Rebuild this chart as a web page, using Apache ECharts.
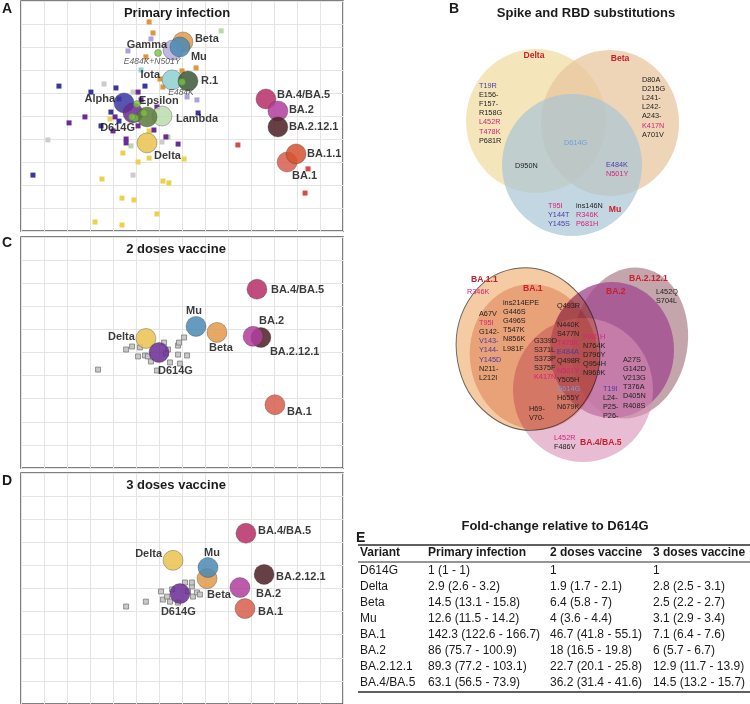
<!DOCTYPE html>
<html>
<head>
<meta charset="utf-8">
<script src="https://cdn.jsdelivr.net/npm/echarts@6/dist/echarts.min.js"></script>
<style>
  html, body { margin: 0; padding: 0; background: #fff; }
  #chart { width: 750px; height: 704px; }
</style>
</head>
<body>
<div id="chart"></div>
<script>
var FONT = '"Liberation Sans", Arial, sans-serif';

// ---- antigenic maps, coordinates in antigenic units (1 unit = 1 grid square) ----
// A: primary infection
var primaryNames = ['Beta', 'Gamma', 'Mu', 'Iota', 'R.1', 'Alpha', 'D614G', 'Lambda', 'Epsilon', 'Delta',
  'BA.4/BA.5', 'BA.2', 'BA.2.12.1', 'BA.1', 'BA.1.1'];
var primaryX = [7.04, 6.61, 6.91, 6.57, 7.26, 4.48, 4.87, 6.13, 5.48, 5.48, 10.65, 11.17, 11.17, 11.57, 11.96];
var primaryY = [8.22, 7.87, 8.00, 6.57, 6.52, 5.57, 5.13, 5.00, 4.96, 3.83, 5.74, 5.22, 4.52, 3.00, 3.35];

// point mutant pseudoviruses (green dots)
var mutantNames = ['E484K+N501Y', 'E484K', '', '', '', ''];
var mutantX = [5.96, 7.00, 5.04, 5.35, 4.96, 4.83];
var mutantY = [7.74, 6.48, 5.52, 5.13, 4.91, 4.96];

// convalescent sera (squares), grouped by infecting variant
var seraBeta = [[5.57, 9.09], [5.74, 8.61], [5.43, 7.57], [6.04, 6.61], [6.17, 6.26], [7.00, 6.96], [7.61, 7.09]];
var seraGamma = [[5.65, 8.35], [4.65, 7.83], [7.22, 5.83], [7.65, 5.70]];
var seraLambda = [[8.70, 8.70], [4.78, 3.70], [6.39, 4.09]];
var seraIota = [[5.22, 7.00]];
var seraAlpha = [[1.65, 6.30], [3.04, 6.04], [4.13, 6.22], [5.39, 6.30], [4.26, 5.74], [3.91, 5.17], [4.26, 4.78],
  [3.48, 4.57], [7.70, 5.13], [0.52, 2.43]];
var seraD614G = [[5.09, 6.04], [5.22, 5.70], [2.78, 4.96], [2.09, 4.70], [4.09, 4.96], [4.00, 4.35], [5.09, 4.57],
  [5.78, 4.39], [5.91, 5.39], [4.57, 4.00], [4.57, 3.83], [6.30, 4.09], [6.83, 3.78]];
var seraOther = [[3.61, 6.39], [4.87, 6.04], [1.17, 3.96], [6.13, 3.87], [4.87, 2.43]];
var seraDelta = [[3.87, 4.87], [5.57, 4.35], [4.43, 3.39], [5.57, 3.17], [5.09, 3.00], [7.09, 3.13], [3.52, 2.26],
  [6.17, 2.17], [6.43, 2.09], [4.39, 1.43], [4.91, 1.35], [5.91, 0.74], [3.22, 0.39], [4.39, 0.26]];
var seraBA1 = [[9.43, 3.74], [12.48, 2.70], [12.35, 1.65]];

// C: 2 doses vaccine
var twoDoseNames = ['Delta', 'D614G', 'Mu', 'Beta', 'BA.4/BA.5', 'BA.2.12.1', 'BA.2', 'BA.1'];
var twoDoseX = [5.43, 6.00, 7.61, 8.52, 10.26, 10.43, 10.09, 11.04];
var twoDoseY = [5.61, 5.00, 6.13, 5.87, 7.74, 5.65, 5.70, 2.74];
var twoDoseSera = [[4.57, 5.13], [4.83, 5.26], [5.17, 5.22], [5.09, 4.83], [5.39, 4.87], [5.52, 4.83], [5.65, 4.61],
  [6.22, 5.43], [6.39, 5.13], [6.48, 4.57], [6.83, 5.30], [6.87, 5.43], [7.09, 5.65], [6.83, 4.91], [7.22, 4.87],
  [6.91, 4.52], [5.91, 4.22], [3.35, 4.26], [6.30, 4.96]];

// D: 3 doses vaccine
var threeDoseNames = ['Delta', 'Beta', 'Mu', 'D614G', 'BA.4/BA.5', 'BA.2.12.1', 'BA.2', 'BA.1'];
var threeDoseX = [6.61, 8.09, 8.13, 6.91, 9.78, 10.57, 9.52, 9.74];
var threeDoseY = [6.22, 5.43, 5.91, 4.78, 7.39, 5.61, 5.04, 4.13];
var threeDoseSera = [[4.57, 4.22], [5.43, 4.43], [6.09, 4.87], [6.17, 4.52], [6.35, 4.65], [6.48, 4.43], [7.13, 5.26],
  [7.43, 5.09], [7.48, 4.65], [7.65, 4.83], [7.78, 4.74], [7.43, 5.26], [6.57, 4.96], [7.26, 4.87], [6.83, 4.39]];

// ---- B: spike / RBD substitutions ----
var deltaOnly = ['T19R', 'E156-', 'F157-', 'R158G', 'L452R', 'T478K', 'P681R'];
var betaOnly = ['D80A', 'D215G', 'L241-', 'L242-', 'A243-', 'K417N', 'A701V'];
var sharedAll = ['D614G'];
var deltaMu = ['D950N'];
var betaMu = ['E484K', 'N501Y'];
var muOnly1 = ['T95I', 'Y144T', 'Y145S'];
var muOnly2 = ['ins146N', 'R346K', 'P681H'];
var ba11Only = ['R346K'];
var ba1Only1 = ['A67V', 'T95I', 'G142-', 'V143-', 'Y144-', 'Y145D', 'N211-', 'L212I'];
var ba1Only2 = ['ins214EPE', 'G446S', 'G496S', 'T547K', 'N856K', 'L981F'];
var ba1Ba2 = ['Q493R'];
var omicronCore = ['N440K', 'S477N', 'T478K', 'E484A', 'Q498R', 'N501Y', 'Y505H', 'D614G', 'H655Y', 'N679K'];
var omicronRbd = ['G339D', 'S371L', 'S373P', 'S375F', 'K417N'];
var omicronS2 = ['P681H', 'N764K', 'D796Y', 'Q954H', 'N969K'];
var ba2Only1 = ['A27S', 'G142D', 'V213G', 'T376A', 'D405N', 'R408S'];
var ba2Only2 = ['T19I', 'L24-', 'P25-', 'P26-'];
var ba2121Only = ['L452Q', 'S704L'];
var ba1Ba45 = ['H69-', 'V70-'];
var ba45Only = ['L452R', 'F486V'];
var magentaMuts = ['L452R', 'T478K', 'K417N', 'N501Y', 'T95I', 'R346K', 'P681H'];
var blueMuts = ['T19R', 'E484K', 'Y144T', 'Y145S', 'V143-', 'Y144-', 'Y145D', 'E484A', 'T19I'];

// ---- E: fold change relative to D614G ----
var tableVariants = ['D614G', 'Delta', 'Beta', 'Mu', 'BA.1', 'BA.2', 'BA.2.12.1', 'BA.4/BA.5'];
var foldPrimary = [1, 2.9, 14.5, 12.6, 142.3, 86, 89.3, 63.1];
var ciPrimary = [[1, 1], [2.6, 3.2], [13.1, 15.8], [11.5, 14.2], [122.6, 166.7], [75.7, 100.9], [77.2, 103.1], [56.5, 73.9]];
var foldTwo = [1, 1.9, 6.4, 4, 46.7, 18, 22.7, 36.2];
var ciTwo = [null, [1.7, 2.1], [5.8, 7], [3.6, 4.4], [41.8, 55.1], [16.5, 19.8], [20.1, 25.8], [31.4, 41.6]];
var foldThree = [1, 2.8, 2.5, 3.1, 7.1, 6, 12.9, 14.5];
var ciThree = [null, [2.5, 3.1], [2.2, 2.7], [2.9, 3.4], [6.4, 7.6], [5.7, 6.7], [11.7, 13.9], [13.2, 15.7]];
var tableHeader = ['Variant', 'Primary infection', '2 doses vaccine', '3 doses vaccine'];

// ---------- styles ----------
var variantColor = {
  'D614G': '#6a2c91', 'Alpha': '#3b39a3', 'Beta': '#e39a4c', 'Gamma': '#b5acdc', 'Mu': '#4a8bb3',
  'Iota': '#8fd0cf', 'R.1': '#3d5838', 'Epsilon': '#5b7a3c', 'Lambda': '#bcdcae', 'Delta': '#e9c24f',
  'BA.1': '#d85f4e', 'BA.1.1': '#d5532e', 'BA.2': '#b13f9d', 'BA.2.12.1': '#4d2125', 'BA.4/BA.5': '#b72f68'
};
// label placement: [align, dx, dy] from circle centre
var labelsA = {
  'Beta': ['left', 12, -3], 'Gamma': ['right', -6, -5], 'Mu': ['left', 11, 10], 'Iota': ['right', -12, -5],
  'R.1': ['left', 13, 0], 'Alpha': ['right', -9, -4], 'D614G': ['right', 2, 15], 'Lambda': ['left', 14, 3],
  'Epsilon': ['left', -8, -16], 'Delta': ['left', 7, 13], 'BA.4/BA.5': ['left', 11, -4], 'BA.2': ['left', 11, -1],
  'BA.2.12.1': ['left', 11, 0], 'BA.1': ['left', 5, 14], 'BA.1.1': ['left', 11, 0]
};
var labelsC = {
  'Delta': ['right', -11, -1], 'Mu': ['center', -2, -15], 'Beta': ['left', -8, 16], 'D614G': ['left', -1, 18],
  'BA.4/BA.5': ['left', 14, 1], 'BA.2': ['left', 6, -15], 'BA.2.12.1': ['left', 9, 14], 'BA.1': ['left', 12, 7]
};
var labelsD = {
  'Delta': ['right', -11, -6], 'Mu': ['center', 4, -15], 'Beta': ['left', 0, 16], 'D614G': ['left', -19, 18],
  'BA.4/BA.5': ['left', 12, -2], 'BA.2.12.1': ['left', 12, 3], 'BA.2': ['left', 16, 6], 'BA.1': ['left', 13, 3]
};
var mutantLabels = [['center', -6, 9], ['center', -1, 11]];

var ELLIPSE = 'path://M50 0C77.6 0 100 22.4 100 50C100 77.6 77.6 100 50 100C22.4 100 0 77.6 0 50C0 22.4 22.4 0 50 0Z';
// venn shapes, in page pixels (grid 3 maps 1 unit = 1 px)
var vennTop = [
  { c: [536, 121], s: [140, 144], r: 0, color: '#f0dc9f', op: 0.72 },
  { c: [610, 123], s: [138, 146], r: 0, color: '#e8c59c', op: 0.72 },
  { c: [572, 165], s: [140, 142], r: 0, color: '#a6c4d5', op: 0.68 }
];
var vennBa2 = [
  { c: [630, 343], s: [115, 152], r: -10, color: '#bc9ba2', op: 0.9 },
  { c: [612, 350], s: [124, 136], r: 0, color: '#a24b8e', op: 0.78 },
  { c: [583, 390], s: [140, 144], r: 0, color: '#d98fb6', op: 0.6 }
];
var vennBa1 = [
  { c: [528, 349], s: [143, 163], r: 10, color: '#f5cba4', op: 1, border: true },
  { c: [534, 357], s: [128, 146], r: 10, color: '#f3cabb', op: 1 }
];

var mapGrids = [
  { left: 21, top: 1, width: 322, height: 230 },
  { left: 21, top: 237, width: 322, height: 231 },
  { left: 21, top: 473, width: 322, height: 231 }
];

function mapAxis(gi, max) {
  return {
    gridIndex: gi, type: 'value', min: 0, max: max, interval: 1,
    axisLabel: { show: false }, axisTick: { show: false }, axisLine: { show: false },
    splitLine: { show: true, lineStyle: { color: '#e4e4e4', width: 1 } }
  };
}

function circleSeries(gi, names, xs, ys, lay) {
  return {
    type: 'scatter', xAxisIndex: gi, yAxisIndex: gi, symbol: 'circle', symbolSize: 20, z: 3,
    silent: true,
    itemStyle: { opacity: 0.86, borderColor: 'rgba(50,50,50,0.55)', borderWidth: 0.7 },
    data: names.map(function (n, i) {
      var l = lay[n];
      return {
        name: n, value: [xs[i], ys[i]], itemStyle: { color: variantColor[n] },
        label: {
          show: true, position: 'inside', align: l[0], verticalAlign: 'middle', offset: [l[1], l[2]],
          formatter: n, color: '#1b1b1b', fontWeight: 'bold', fontSize: 11, fontFamily: FONT,
          textBorderWidth: 0
        }
      };
    })
  };
}

function seraSeries(gi, pts, color, border) {
  return {
    type: 'scatter', xAxisIndex: gi, yAxisIndex: gi, symbol: 'rect', symbolSize: 5, z: 2, silent: true,
    itemStyle: { color: color, borderColor: border || color, borderWidth: border ? 0.7 : 0, opacity: 1 },
    data: pts
  };
}

function vennSeries(shapes, z, blend) {
  var s = {
    type: 'scatter', xAxisIndex: 3, yAxisIndex: 3, z: z, silent: true, symbol: ELLIPSE,
    data: shapes.map(function (v) {
      return {
        value: v.c, symbolSize: v.s, symbolRotate: v.r,
        itemStyle: {
          color: v.color, opacity: v.op,
          borderColor: v.border ? '#6d6d6d' : 'transparent', borderWidth: v.border ? 1 : 0
        }
      };
    })
  };
  if (blend) s.blendMode = blend;
  return s;
}

var series = [
  seraSeries(0, seraOther, '#cccccc'),
  seraSeries(0, seraDelta, '#ead24a'),
  seraSeries(0, seraLambda, '#b6d9a6'),
  seraSeries(0, seraIota, '#8fd0d0'),
  seraSeries(0, seraGamma, '#aaa2dd'),
  seraSeries(0, seraBeta, '#e0943f'),
  seraSeries(0, seraAlpha, '#3a36a0'),
  seraSeries(0, seraD614G, '#6b2b96'),
  seraSeries(0, seraBA1, '#d84b42'),
  circleSeries(0, primaryNames, primaryX, primaryY, labelsA),
  {
    type: 'scatter', xAxisIndex: 0, yAxisIndex: 0, symbolSize: 7, z: 4, silent: true,
    itemStyle: { color: '#7cc142', borderColor: '#4f7f2a', borderWidth: 0.6 },
    data: mutantNames.map(function (n, i) {
      var d = { name: n, value: [mutantX[i], mutantY[i]] };
      if (n) {
        var l = mutantLabels[i];
        d.label = {
          show: true, position: 'inside', align: l[0], verticalAlign: 'middle', offset: [l[1], l[2]],
          formatter: n, color: '#333', fontStyle: 'italic', fontSize: 8.5, fontFamily: FONT, textBorderWidth: 0
        };
      }
      return d;
    })
  },
  seraSeries(1, twoDoseSera, '#c9c9c9', '#6f6f6f'),
  circleSeries(1, twoDoseNames, twoDoseX, twoDoseY, labelsC),
  seraSeries(2, threeDoseSera, '#c9c9c9', '#6f6f6f'),
  circleSeries(2, threeDoseNames, threeDoseX, threeDoseY, labelsD),
  vennSeries(vennTop, 1),
  vennSeries(vennBa2, 1),
  vennSeries(vennBa1, 1.5, 'multiply')
];

// ---------- text (titles, venn lists, table) ----------
var graphics = [];
function txt(x, y, s, o) {
  var style = { text: s, fill: '#1b1b1b', fontSize: 12, fontFamily: FONT, align: 'left', verticalAlign: 'middle' };
  for (var k in (o || {})) style[k] = o[k];
  graphics.push({ type: 'text', x: x, y: y, z: 100, silent: true, style: style });
}
function hline(x1, x2, y, w) {
  graphics.push({ type: 'line', z: 100, silent: true, shape: { x1: x1, y1: y, x2: x2, y2: y },
    style: { stroke: '#2b2b2b', lineWidth: w } });
}
function mutColor(m) {
  if (m === 'D614G') return '#6f9fdc';
  if (magentaMuts.indexOf(m) >= 0) return '#d4237a';
  if (blueMuts.indexOf(m) >= 0) return '#4b3ba6';
  return '#222';
}
function block(list, x, y) {
  list.forEach(function (m, i) {
    txt(x, y + i * 9.1, m, { fontSize: 7.3, fill: mutColor(m) });
  });
}
var bold = { fontWeight: 'bold' };
var panelLetter = { fontWeight: 'bold', fontSize: 14 };
var setLabel = { fontWeight: 'bold', fontSize: 8.6, fill: '#c8202e' };

txt(2, 9, 'A', panelLetter);
txt(2, 243, 'C', panelLetter);
txt(2, 481, 'D', panelLetter);
txt(449, 9, 'B', panelLetter);
txt(356, 538, 'E', panelLetter);

txt(177, 13, 'Primary infection', { fontWeight: 'bold', fontSize: 13, align: 'center' });
txt(176, 249, '2 doses vaccine', { fontWeight: 'bold', fontSize: 13, align: 'center' });
txt(176, 485, '3 doses vaccine', { fontWeight: 'bold', fontSize: 13, align: 'center' });
txt(586, 13, 'Spike and RBD substitutions', { fontWeight: 'bold', fontSize: 13, align: 'center' });
txt(555, 526, 'Fold-change relative to D614G', { fontWeight: 'bold', fontSize: 13, align: 'center' });

// top venn
txt(534, 56, 'Delta', Object.assign({ align: 'center' }, setLabel));
txt(620, 59, 'Beta', Object.assign({ align: 'center' }, setLabel));
txt(615, 210, 'Mu', Object.assign({ align: 'center' }, setLabel));
block(deltaOnly, 479, 86);
block(betaOnly, 642, 80);
block(sharedAll, 564, 143);
block(deltaMu, 515, 166);
block(betaMu, 606, 165);
block(muOnly1, 548, 206);
block(muOnly2, 576, 206);

// bottom venn
txt(471, 280, 'BA.1.1', setLabel);
txt(523, 289, 'BA.1', setLabel);
txt(629, 279, 'BA.2.12.1', setLabel);
txt(606, 292, 'BA.2', setLabel);
txt(580, 443, 'BA.4/BA.5', setLabel);
block(ba11Only, 467, 292);
block(ba1Only1, 479, 314);
block(ba1Only2, 503, 303);
block(ba1Ba2, 557, 306);
block(omicronCore, 557, 325);
block(omicronRbd, 534, 341);
block(omicronS2, 583, 337);
block(ba2Only1, 623, 360);
block(ba2Only2, 603, 389);
block(ba2121Only, 656, 292);
block(ba1Ba45, 529, 409);
block(ba45Only, 554, 438);

// table
var colX = [360, 428, 550, 653];
function fmt(v, ci) { return ci ? v + ' (' + ci[0] + ' - ' + ci[1] + ')' : String(v); }
hline(358, 750, 545, 1.5);
tableHeader.forEach(function (h, j) { txt(colX[j], 553, h, bold); });
hline(358, 750, 562, 1);
tableVariants.forEach(function (v, i) {
  var y = 571 + i * 16;
  txt(colX[0], y, v);
  txt(colX[1], y, fmt(foldPrimary[i], ciPrimary[i]));
  txt(colX[2], y, fmt(foldTwo[i], ciTwo[i]));
  txt(colX[3], y, fmt(foldThree[i], ciThree[i]));
});
hline(358, 750, 692, 1.5);

var gridOpts = mapGrids.map(function (g) {
  return { left: g.left, top: g.top, width: g.width, height: g.height, show: true,
    borderColor: '#555', borderWidth: 1.5, backgroundColor: 'transparent' };
});
gridOpts.push({ left: 0, top: 0, width: 750, height: 704, show: false });

var option = {
  animation: false,
  backgroundColor: '#fff',
  grid: gridOpts,
  xAxis: [mapAxis(0, 14), mapAxis(1, 14), mapAxis(2, 14),
    { gridIndex: 3, type: 'value', min: 0, max: 750, show: false }],
  yAxis: [mapAxis(0, 10), mapAxis(1, 10), mapAxis(2, 10),
    { gridIndex: 3, type: 'value', min: 0, max: 704, inverse: true, show: false }],
  series: series,
  graphic: graphics
};

var myChart = echarts.init(document.getElementById('chart'));
myChart.setOption(option);
</script>
</body>
</html>
